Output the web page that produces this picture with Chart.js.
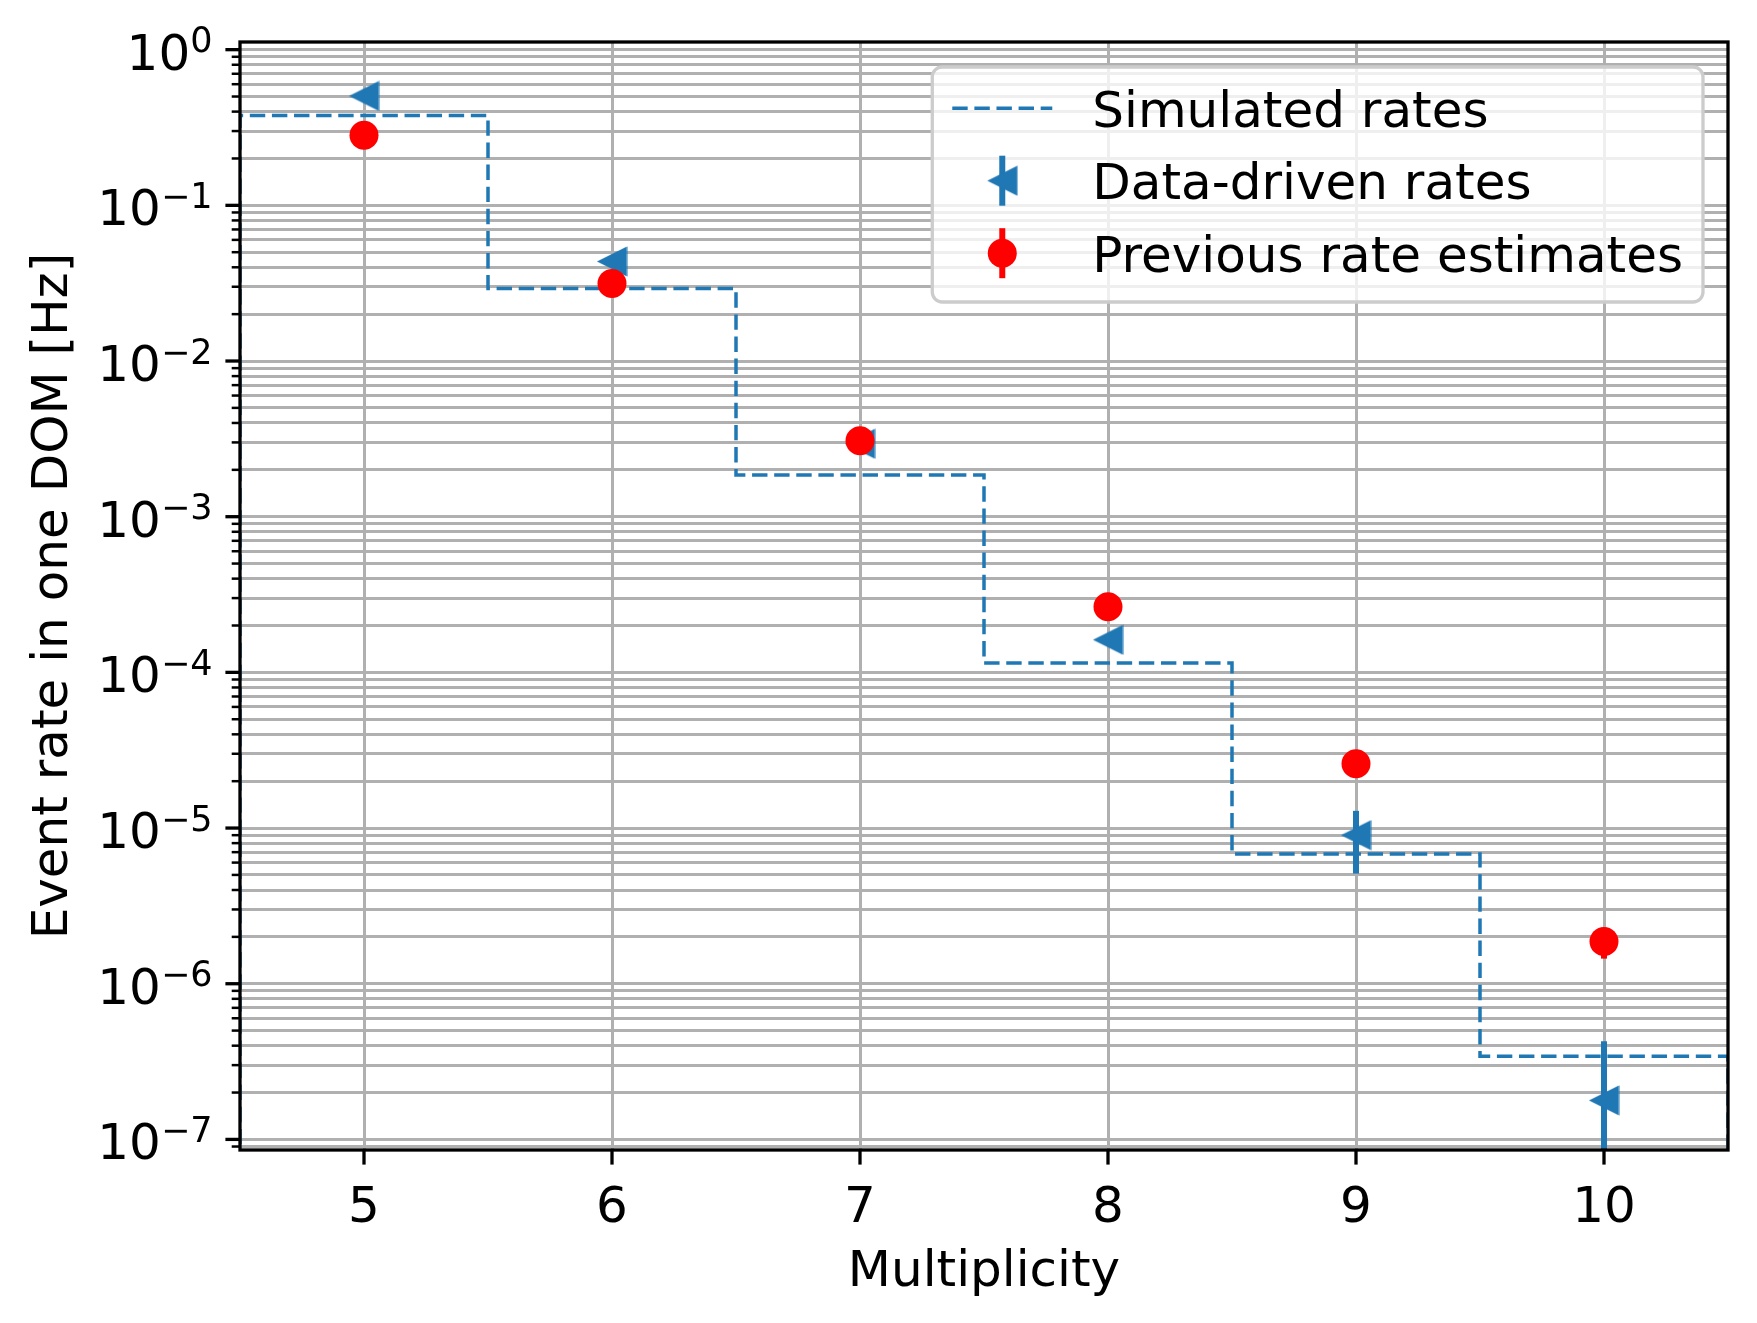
<!DOCTYPE html>
<html>
<head>
<meta charset="utf-8">
<script src="https://cdn.jsdelivr.net/npm/chart.js@4.4.1/dist/chart.umd.min.js"></script>
<style>
  html, body { margin: 0; padding: 0; background: #fff; }
  canvas { display: block; }
</style>
</head>
<body>
<canvas id="rateChart" width="1757" height="1323"></canvas>
<script>
const multiplicity = [5, 6, 7, 8, 9, 10];
const simulatedRates = [0.378, 0.0292, 1.85e-3, 1.15e-4, 6.81e-6, 3.42e-7];
const dataDrivenRates = [0.504, 0.0436, 2.94e-3, 1.62e-4, 9.0e-6, 1.78e-7];
const dataDrivenErr = [0.01, 0.002, 1.5e-4, 1.2e-5, 3.9e-6, 2.49e-7];
const previousRates = [0.282, 0.0315, 3.07e-3, 2.64e-4, 2.59e-5, 1.87e-6];
const previousErr = [0.01, 0.001, 1.0e-4, 1.0e-5, 1.5e-6, 0.42e-6];
const yTickPowers = [0, -1, -2, -3, -4, -5, -6, -7];

const yMin = 8.55e-8;
const yMax = 1.12;
const stairsBaseline = 1e-12;

const blue = '#1f77b4';
const red = '#ff0000';
const gridColor = '#b0b0b0';
const fontFamily = '"DejaVu Sans", sans-serif';

// stairs: bin edges at multiplicity +- 0.5, dropping to the baseline at both ends
const last = multiplicity.length - 1;
const stepPoints = [{ x: multiplicity[0] - 0.5, y: stairsBaseline }];
multiplicity.forEach((m, i) => stepPoints.push({ x: m - 0.5, y: simulatedRates[i] }));
stepPoints.push({ x: multiplicity[last] + 0.5, y: simulatedRates[last] });
stepPoints.push({ x: multiplicity[last] + 0.5, y: stairsBaseline });

// matplotlib style '<' marker
const triangle = document.createElement('canvas');
triangle.width = 31;
triangle.height = 31;
(function () {
    const t = triangle.getContext('2d');
    t.fillStyle = blue;
    t.beginPath();
    t.moveTo(0.5, 15.5);
    t.lineTo(30.5, 0.5);
    t.lineTo(30.5, 30.5);
    t.closePath();
    t.fill();
})();

const yTicks = [];
for (let e = -8; e <= 0; e++) {
    for (let s = 1; s <= 9; s++) {
        const v = s * Math.pow(10, e);
        if (v >= yMin && v <= yMax) yTicks.push({ value: v, major: s === 1 });
    }
}

function roundRect(ctx, x, y, w, h, r) {
    ctx.beginPath();
    ctx.moveTo(x + r, y);
    ctx.arcTo(x + w, y, x + w, y + h, r);
    ctx.arcTo(x + w, y + h, x, y + h, r);
    ctx.arcTo(x, y + h, x, y, r);
    ctx.arcTo(x, y, x + w, y, r);
    ctx.closePath();
}

const mplDecor = {
    id: 'mplDecor',
    beforeDatasetDraw(chart, args) {
        const ds = chart.data.datasets[args.index];
        if (!ds.yErr) return;
        const { ctx, chartArea: area } = chart;
        const xs = chart.scales.x, ys = chart.scales.y;
        ctx.save();
        ctx.beginPath();
        ctx.rect(area.left, area.top, area.right - area.left, area.bottom - area.top);
        ctx.clip();
        ctx.strokeStyle = ds.errColor;
        ctx.lineWidth = 6;
        ds.data.forEach((p, i) => {
            const px = xs.getPixelForValue(p.x);
            const lo = p.y - ds.yErr[i];
            const top = ys.getPixelForValue(p.y + ds.yErr[i]);
            const bot = lo > 0 ? ys.getPixelForValue(lo) : area.bottom + 20;
            ctx.beginPath();
            ctx.moveTo(px, top);
            ctx.lineTo(px, bot);
            ctx.stroke();
        });
        ctx.restore();
    },
    afterDatasetsDraw(chart) {
        const { ctx, chartArea: area } = chart;
        const xs = chart.scales.x, ys = chart.scales.y;
        ctx.save();
        ctx.strokeStyle = '#000';
        // tick marks
        ys.ticks.forEach(t => {
            const py = ys.getPixelForValue(t.value);
            ctx.lineWidth = t.major ? 3.3 : 2.5;
            ctx.beginPath();
            ctx.moveTo(area.left, py);
            ctx.lineTo(area.left - (t.major ? 14.6 : 8.3), py);
            ctx.stroke();
        });
        ctx.lineWidth = 3.3;
        multiplicity.forEach(m => {
            const px = xs.getPixelForValue(m);
            ctx.beginPath();
            ctx.moveTo(px, area.bottom);
            ctx.lineTo(px, area.bottom + 14.6);
            ctx.stroke();
        });
        // frame
        ctx.strokeRect(area.left, area.top, area.right - area.left, area.bottom - area.top);

        // y tick labels 10^n
        ctx.fillStyle = '#000';
        ctx.textAlign = 'left';
        ctx.textBaseline = 'alphabetic';
        const right = area.left - 27.5;
        yTickPowers.forEach(p => {
            const py = ys.getPixelForValue(Math.pow(10, p));
            const expTxt = p < 0 ? '\u2212' + (-p) : String(p);
            ctx.font = '35px ' + fontFamily;
            const wExp = ctx.measureText(expTxt).width;
            ctx.fillText(expTxt, right - wExp, py + 2.5);
            ctx.font = '50px ' + fontFamily;
            const wMain = ctx.measureText('10').width;
            ctx.fillText('10', right - wExp - wMain, py + 20);
        });
        ctx.restore();
    },
    afterDraw(chart) {
        const { ctx, chartArea: area } = chart;
        const items = chart.data.datasets.slice().sort((a, b) => b.order - a.order);
        ctx.save();
        ctx.font = '50px ' + fontFamily;
        const textW = Math.max(...items.map(d => ctx.measureText(d.label).width));
        const w = 20 + 100 + 40 + textW + 20;
        const h = 235;
        const x0 = area.right - 25 - w;
        const y0 = area.top + 25;
        roundRect(ctx, x0, y0, w, h, 10);
        ctx.fillStyle = 'rgba(255,255,255,0.8)';
        ctx.fill();
        ctx.strokeStyle = '#cccccc';
        ctx.lineWidth = 3.3;
        ctx.stroke();

        items.forEach((d, i) => {
            const base = y0 + 59.7 + i * 72.5;
            const cy = base - 18.5;
            const cx = x0 + 70;
            if (d.showLine) {
                ctx.strokeStyle = d.borderColor;
                ctx.lineWidth = d.borderWidth;
                ctx.setLineDash(d.borderDash);
                ctx.beginPath();
                ctx.moveTo(x0 + 20, cy);
                ctx.lineTo(x0 + 120, cy);
                ctx.stroke();
                ctx.setLineDash([]);
            } else {
                ctx.strokeStyle = d.errColor;
                ctx.lineWidth = 6;
                ctx.beginPath();
                ctx.moveTo(cx, cy - 25);
                ctx.lineTo(cx, cy + 25);
                ctx.stroke();
                if (d.pointStyle === 'circle') {
                    ctx.fillStyle = d.pointBackgroundColor;
                    ctx.beginPath();
                    ctx.arc(cx, cy, d.pointRadius, 0, Math.PI * 2);
                    ctx.fill();
                } else {
                    ctx.drawImage(d.pointStyle, cx - 15.5, cy - 15.5);
                }
            }
            ctx.fillStyle = '#000';
            ctx.textAlign = 'left';
            ctx.textBaseline = 'alphabetic';
            ctx.fillText(d.label, x0 + 160, base);
        });
        ctx.restore();
    }
};

const ctx = document.getElementById('rateChart').getContext('2d');

const rateChart = new Chart(ctx, {
    type: 'scatter',
    data: {
        datasets: [
            {
                label: 'Simulated rates',
                data: stepPoints,
                showLine: true,
                stepped: 'before',
                borderColor: blue,
                borderWidth: 3.5,
                borderDash: [15.4, 6.7],
                pointRadius: 0,
                fill: false,
                order: 3,
            },
            {
                label: 'Data-driven rates',
                data: multiplicity.map((m, i) => ({ x: m, y: dataDrivenRates[i] })),
                yErr: dataDrivenErr,
                errColor: blue,
                showLine: false,
                pointStyle: triangle,
                pointRadius: 15,
                order: 2,
            },
            {
                label: 'Previous rate estimates',
                data: multiplicity.map((m, i) => ({ x: m, y: previousRates[i] })),
                yErr: previousErr,
                errColor: red,
                showLine: false,
                pointStyle: 'circle',
                pointRadius: 14.5,
                pointBackgroundColor: red,
                pointBorderWidth: 0,
                borderColor: red,
                order: 1,
            }
        ]
    },
    options: {
        responsive: false,
        devicePixelRatio: 1,
        animation: false,
        events: [],
        layout: { padding: { top: 42, right: 29, left: 0, bottom: 0 } },
        plugins: { legend: { display: false }, tooltip: { enabled: false } },
        scales: {
            x: {
                type: 'linear',
                min: 4.5,
                max: 10.5,
                afterBuildTicks: (scale) => { scale.ticks = multiplicity.map(v => ({ value: v })); },
                afterFit: (scale) => { scale.height = 173; },
                ticks: {
                    color: '#000',
                    padding: 29,
                    font: { family: fontFamily, size: 50 },
                    callback: (v) => String(v),
                },
                grid: { color: gridColor, lineWidth: 3, drawTicks: false },
                border: { display: false },
                title: {
                    display: true,
                    text: 'Multiplicity',
                    color: '#000',
                    font: { family: fontFamily, size: 50 },
                    padding: { top: 0, bottom: 20 },
                },
            },
            y: {
                type: 'logarithmic',
                min: yMin,
                max: yMax,
                afterBuildTicks: (scale) => { scale.ticks = yTicks.map(t => ({ ...t })); },
                afterFit: (scale) => { scale.width = 240; },
                ticks: { display: false },
                grid: { color: gridColor, lineWidth: 3, drawTicks: false },
                border: { display: false },
                title: {
                    display: true,
                    text: 'Event rate in one DOM [Hz]',
                    color: '#000',
                    font: { family: fontFamily, size: 50 },
                    padding: { top: 24, bottom: 0 },
                },
            }
        }
    },
    plugins: [mplDecor]
});
</script>
</body>
</html>
